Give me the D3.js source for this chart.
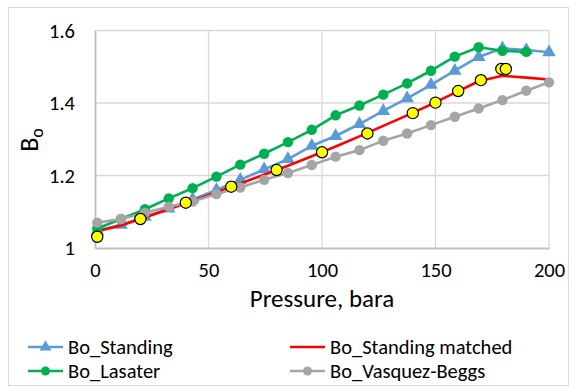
<!DOCTYPE html>
<html>
<head>
<meta charset="utf-8">
<script src="https://cdn.jsdelivr.net/npm/d3@7"></script>
<style>
  body { margin: 0; background: #fff; }
  svg { font-family: Carlito, Lato, sans-serif; }
</style>
</head>
<body>
<div id="chart"></div>
<script>
// pressures (bara) used by the correlations
var pressure = [1, 11.5, 22, 32.5, 43, 53.5, 64, 74.5, 85, 95.5, 106, 116.5, 127, 137.5, 148, 158.5, 169, 179.5, 190, 200];

var boStanding = [1.048, 1.064, 1.086, 1.109, 1.134, 1.160, 1.188, 1.217, 1.245, 1.282, 1.309, 1.342, 1.378, 1.413, 1.450, 1.489, 1.527, 1.551, 1.546, 1.540];
var boMatched  = [1.046, 1.062, 1.084, 1.107, 1.130, 1.154, 1.178, 1.202, 1.227, 1.253, 1.280, 1.308, 1.337, 1.366, 1.396, 1.428, 1.460, 1.475, 1.470, 1.465];
var boLasater  = [1.054, 1.080, 1.107, 1.137, 1.165, 1.197, 1.230, 1.260, 1.292, 1.326, 1.366, 1.393, 1.423, 1.454, 1.489, 1.528, 1.554, 1.544, 1.541];
var boVasquez  = [1.070, 1.080, 1.097, 1.114, 1.128, 1.149, 1.167, 1.188, 1.207, 1.229, 1.252, 1.270, 1.296, 1.316, 1.339, 1.362, 1.385, 1.408, 1.434, 1.457];

// measured points (yellow)
var labP  = [1, 20, 40, 60, 80, 100, 120, 140, 150, 160, 170, 179, 181];
var labBo = [1.031, 1.080, 1.125, 1.169, 1.215, 1.264, 1.316, 1.372, 1.401, 1.433, 1.463, 1.494, 1.494];

var xTicks = [0, 50, 100, 150, 200];
var yTicks = [1, 1.2, 1.4, 1.6];

var W = 576, H = 388;
var margin = {left: 95, right: 27, top: 30.5, bottom: 140};

var svg = d3.select("#chart").append("svg")
  .attr("width", W).attr("height", H);

svg.append("rect")
  .attr("x", 8.5).attr("y", 7.5)
  .attr("width", 560).attr("height", 378)
  .attr("fill", "#fff").attr("stroke", "#d9d9d9");

var x = d3.scaleLinear().domain([0, 200]).range([margin.left, W - margin.right]);
var y = d3.scaleLinear().domain([1, 1.6]).range([H - margin.bottom, margin.top]);

// grid
svg.append("g").selectAll("line").data(xTicks.slice(1)).join("line")
  .attr("x1", d => x(d)).attr("x2", d => x(d))
  .attr("y1", y(1)).attr("y2", y(1.6))
  .attr("stroke", "#d9d9d9").attr("stroke-width", 1.3);
svg.append("g").selectAll("line").data(yTicks.slice(1)).join("line")
  .attr("x1", x(0)).attr("x2", x(200))
  .attr("y1", d => y(d)).attr("y2", d => y(d))
  .attr("stroke", "#d9d9d9").attr("stroke-width", 1.3);

// axes
var xAxis = svg.append("g")
  .attr("transform", `translate(0,${y(1)})`)
  .call(d3.axisBottom(x).tickValues(xTicks).tickSize(0).tickPadding(14));
var yAxis = svg.append("g")
  .attr("transform", `translate(${x(0)},0)`)
  .call(d3.axisLeft(y).tickValues(yTicks).tickSize(0).tickPadding(20).tickFormat(d3.format("")));
[xAxis, yAxis].forEach(a => {
  a.select(".domain").attr("stroke", "#bfbfbf").attr("stroke-width", 1.8);
  a.selectAll("text").attr("font-size", 20.5).attr("fill", "#000").attr("font-family", "Carlito, Lato, sans-serif");
});

svg.append("text")
  .attr("x", x(100)).attr("y", 307)
  .attr("text-anchor", "middle").attr("font-size", 25)
  .text("Pressure, bara");

var yl = svg.append("text")
  .attr("transform", `translate(38,140) rotate(-90)`)
  .attr("text-anchor", "middle").attr("font-size", 26);
yl.append("tspan").text("B");
yl.append("tspan").attr("font-size", 18).attr("dy", 5).text("o");

var line = d3.line().x(d => x(d[0])).y(d => y(d[1]));

function series(pv, bv, color, marker, width) {
  var pts = bv.map((b, i) => [pv[i], b]);
  var g = svg.append("g");
  g.append("path").datum(pts)
    .attr("d", line).attr("fill", "none")
    .attr("stroke", color).attr("stroke-width", width).attr("stroke-linejoin", "round");
  if (marker) {
    g.selectAll("path.m").data(pts).join("path").attr("class", "m")
      .attr("transform", d => `translate(${x(d[0])},${y(d[1])})`)
      .attr("d", d3.symbol().type(marker === "tri" ? d3.symbolTriangle : d3.symbolCircle).size(marker === "tri" ? 80 : 85))
      .attr("fill", color);
  }
}

series(pressure, boStanding, "#5b9bd5", "tri", 2.6);
series(pressure, boMatched, "#ff0000", null, 2.6);
series(pressure, boLasater, "#00b050", "circle", 2.6);
series(pressure, boVasquez, "#a5a5a5", "circle", 2.6);

svg.append("g").selectAll("circle").data(labP).join("circle")
  .attr("cx", d => x(d)).attr("cy", (d, i) => y(labBo[i]))
  .attr("r", 5.6).attr("fill", "#ffff00").attr("stroke", "#000").attr("stroke-width", 1.2);

// legend
var legendItems = [
  {name: "Bo_Standing", color: "#5b9bd5", marker: "tri", lx: 28, ly: 347},
  {name: "Bo_Standing matched", color: "#ff0000", marker: null, lx: 290, ly: 347},
  {name: "Bo_Lasater", color: "#00b050", marker: "circle", lx: 28, ly: 371},
  {name: "Bo_Vasquez-Beggs", color: "#a5a5a5", marker: "circle", lx: 290, ly: 371}
];
var lg = svg.append("g").selectAll("g").data(legendItems).join("g")
  .attr("transform", d => `translate(${d.lx},${d.ly})`);
lg.append("line").attr("x1", 0).attr("x2", 35)
  .attr("stroke", d => d.color).attr("stroke-width", 2.6);
lg.filter(d => d.marker).append("path")
  .attr("transform", "translate(17.5,0)")
  .attr("d", d => d3.symbol().type(d.marker === "tri" ? d3.symbolTriangle : d3.symbolCircle).size(d.marker === "tri" ? 60 : 64)())
  .attr("fill", d => d.color);
lg.append("text").attr("x", 40).attr("dy", "0.35em")
  .attr("font-size", 20.5).text(d => d.name);
</script>
</body>
</html>
